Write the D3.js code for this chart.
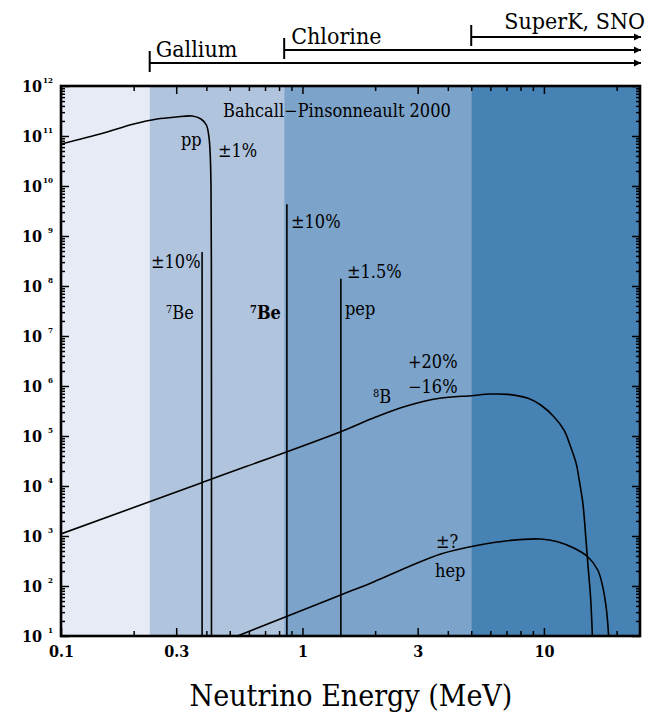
<!DOCTYPE html>
<html>
<head>
<meta charset="utf-8">
<script src="https://cdn.jsdelivr.net/npm/d3@7/dist/d3.min.js"></script>
<style>
  body { margin: 0; background: #fff; }
  svg text { font-family: "DejaVu Serif Condensed", "DejaVu Serif", serif; fill: #000; }
</style>
</head>
<body>
<script>
// solar neutrino spectra (Bahcall-Pinsonneault 2000)
var ppEnergy = [0.1, 0.15, 0.2, 0.25, 0.3, 0.35, 0.38, 0.40, 0.41, 0.415, 0.418, 0.4195, 0.42];
var ppFlux   = [6.9e10, 1.15e11, 1.74e11, 2.19e11, 2.40e11, 2.51e11, 2.19e11, 1.66e11, 9.5e10, 4.2e10, 1.05e10, 3.2e8, 8];

var b8Energy = [0.1, 0.38, 1.44, 2.0, 2.7, 3.7, 5.0, 6.0, 7.1, 8.6, 9.7, 11.0, 12.1, 12.9, 13.6, 14.0, 14.5, 14.9, 15.2, 15.6, 15.8, 15.9];
var b8Flux   = [1.1e3, 1.15e4, 1.22e5, 2.37e5, 3.98e5, 5.68e5, 6.4e5, 6.9e5, 6.8e5, 5.68e5, 4.17e5, 2.43e5, 1.32e5, 6.1e4, 2.84e4, 1.32e4, 4.5e3, 970, 284, 61, 18, 8];

var hepEnergy = [0.5, 1.44, 1.98, 2.72, 3.74, 5.14, 7.07, 9.72, 11.4, 13.36, 15.19, 16.71, 17.52, 18.09, 18.38, 18.56];
var hepFlux   = [8.7, 66, 122, 237, 437, 631, 805, 871, 769, 568, 385, 209, 97, 38.5, 17.9, 8.9];

// line sources: 7Be (0.384, 0.862) and pep
var lineEnergy = [0.384, 0.862, 1.442];
var lineFlux   = [4.8e8, 4.3e9, 1.4e8];

// detector thresholds (MeV)
var detectors = ["Gallium", "Chlorine", "SuperK, SNO"];
var thresholds = [0.233, 0.84, 5.0];
var bandEdges = [0.1, 0.233, 0.84, 5.0, 25];
var bandColors = ["#e7ebf5", "#b0c4de", "#7ca3c9", "#4682b4"];

var xMajor = [0.1, 0.3, 1, 3, 10];
var xMinor = [0.2, 0.4, 0.5, 0.6, 0.7, 0.8, 0.9, 2, 4, 5, 6, 7, 8, 9, 20];
var yExponents = [1, 2, 3, 4, 5, 6, 7, 8, 9, 10, 11, 12];

var width = 659, height = 723;
var pLeft = 61, pRight = 640, pTop = 86, pBottom = 636;

var x = d3.scaleLog().domain([0.1, 25]).range([pLeft, pRight]);
var y = d3.scaleLog().domain([10, 1e12]).range([pBottom, pTop]);

var svg = d3.select("body").append("svg")
  .attr("width", width)
  .attr("height", height);

var defs = svg.append("defs");
defs.append("clipPath").attr("id", "plot")
  .append("rect").attr("x", pLeft).attr("y", pTop)
  .attr("width", pRight - pLeft).attr("height", pBottom - pTop);

defs.append("marker")
  .attr("id", "arrow")
  .attr("viewBox", "0 0 10 10")
  .attr("refX", 10).attr("refY", 5)
  .attr("markerWidth", 4).attr("markerHeight", 4)
  .attr("orient", "auto")
  .append("path").attr("d", "M0,0 L10,5 L0,10 z").attr("fill", "#000");

// background bands
svg.append("g").selectAll("rect")
  .data(bandColors)
  .enter().append("rect")
  .attr("x", function(d, i) { return x(bandEdges[i]); })
  .attr("y", pTop)
  .attr("width", function(d, i) { return x(bandEdges[i + 1]) - x(bandEdges[i]); })
  .attr("height", pBottom - pTop)
  .attr("fill", function(d) { return d; });

// ticks
var yMinor = [];
yExponents.slice(0, -1).forEach(function(e) {
  for (var m = 2; m <= 9; m++) yMinor.push(m * Math.pow(10, e));
});
var yMajor = yExponents.map(function(e) { return Math.pow(10, e); });

function tickLayer(axis, tr) {
  var g = svg.append("g").attr("transform", tr).call(axis);
  g.select(".domain").remove();
  g.selectAll(".tick line").attr("stroke", "#000").attr("stroke-width", 1.5);
  return g;
}

tickLayer(d3.axisBottom(x).tickValues(xMinor).tickSize(-5).tickFormat(""), "translate(0," + pBottom + ")");
tickLayer(d3.axisTop(x).tickValues(xMinor).tickSize(-5).tickFormat(""), "translate(0," + pTop + ")");
tickLayer(d3.axisTop(x).tickValues(xMajor).tickSize(-8).tickFormat(""), "translate(0," + pTop + ")");
var xLab = tickLayer(d3.axisBottom(x).tickValues(xMajor).tickSize(-8).tickPadding(10)
  .tickFormat(function(d) { return d; }), "translate(0," + pBottom + ")");
xLab.selectAll("text")
  .attr("font-family", null)
  .style("font-family", '"DejaVu Serif Condensed", serif')
  .style("font-weight", "bold")
  .style("font-size", "16px");

tickLayer(d3.axisLeft(y).tickValues(yMinor).tickSize(-4).tickFormat(""), "translate(" + pLeft + ",0)");
tickLayer(d3.axisRight(y).tickValues(yMinor).tickSize(-4).tickFormat(""), "translate(" + pRight + ",0)");
tickLayer(d3.axisRight(y).tickValues(yMajor).tickSize(-8).tickFormat(""), "translate(" + pRight + ",0)");
var yLab = tickLayer(d3.axisLeft(y).tickValues(yMajor).tickSize(-8).tickFormat(""), "translate(" + pLeft + ",0)");

yLab.selectAll(".tick").each(function(d) {
  var t = d3.select(this);
  t.append("text")
    .attr("x", -19).attr("dy", "0.36em")
    .attr("text-anchor", "end")
    .style("font-size", "16px").style("font-weight", "bold")
    .text("10");
  t.append("text")
    .attr("x", -8).attr("y", -4)
    .attr("text-anchor", "end")
    .style("font-size", "8px").style("font-weight", "bold")
    .text(Math.round(Math.log10(d)));
});

// spectra
var line = d3.line()
  .x(function(d) { return x(d[0]); })
  .y(function(d) { return y(d[1]); })
  .curve(d3.curveCatmullRom.alpha(0.5));

var curves = svg.append("g").attr("clip-path", "url(#plot)");
[[ppEnergy, ppFlux], [b8Energy, b8Flux], [hepEnergy, hepFlux]].forEach(function(s) {
  curves.append("path")
    .datum(d3.zip(s[0], s[1]))
    .attr("d", line)
    .attr("fill", "none")
    .attr("stroke", "#000")
    .attr("stroke-width", 1.6);
});

curves.selectAll(".mono")
  .data(d3.zip(lineEnergy, lineFlux))
  .enter().append("line")
  .attr("x1", function(d) { return x(d[0]); })
  .attr("x2", function(d) { return x(d[0]); })
  .attr("y1", pBottom)
  .attr("y2", function(d) { return y(d[1]); })
  .attr("stroke", "#000")
  .attr("stroke-width", 1.6);

// frame
svg.append("rect")
  .attr("x", pLeft).attr("y", pTop)
  .attr("width", pRight - pLeft).attr("height", pBottom - pTop)
  .attr("fill", "none").attr("stroke", "#000").attr("stroke-width", 2.6);

// detector arrows
var arrowY = [63, 50, 37];
thresholds.forEach(function(t, i) {
  var g = svg.append("g");
  g.append("line")
    .attr("x1", x(t)).attr("x2", x(t))
    .attr("y1", arrowY[i] - 12).attr("y2", arrowY[i] + 9)
    .attr("stroke", "#000").attr("stroke-width", 2);
  g.append("line")
    .attr("x1", x(t)).attr("x2", pRight + 1)
    .attr("y1", arrowY[i]).attr("y2", arrowY[i])
    .attr("stroke", "#000").attr("stroke-width", 1.8)
    .attr("marker-end", "url(#arrow)");
});
svg.append("text").attr("x", x(thresholds[0]) + 6).attr("y", 57)
  .style("font-size", "23px").text(detectors[0]);
svg.append("text").attr("x", x(thresholds[1]) + 7).attr("y", 44)
  .style("font-size", "23px").text(detectors[1]);
svg.append("text").attr("x", 645).attr("y", 29).attr("text-anchor", "end")
  .style("font-size", "23px").text(detectors[2]);

// annotations
function label(px, py, txt, size, anchor) {
  return svg.append("text").attr("x", px).attr("y", py)
    .attr("text-anchor", anchor || "start")
    .style("font-size", (size || 18) + "px").text(txt);
}
label(223, 117, "Bahcall\u2212Pinsonneault 2000", 18);
label(181, 146, "pp");
label(218, 157, "\u00b11%");
label(151, 268, "\u00b110%");
label(291, 228, "\u00b110%");
label(347, 278, "\u00b11.5%");
label(345, 315, "pep");
label(408, 368, "+20%");
label(408, 393, "\u221216%");
label(436, 548, "\u00b1?");
label(435, 577, "hep");

function sup(px, py, s, base, bold) {
  var t = svg.append("text").attr("x", px).attr("y", py)
    .style("font-size", "18px");
  if (bold) t.style("font-weight", "bold");
  t.append("tspan").attr("dy", -6).style("font-size", "11px").text(s);
  t.append("tspan").attr("dy", 6).text(base);
}
sup(166, 319, "7", "Be", false);
sup(250, 319, "7", "Be", true);
sup(373, 403, "8", "B", false);

svg.append("text")
  .attr("x", 351).attr("y", 706)
  .attr("text-anchor", "middle")
  .style("font-size", "30px")
  .text("Neutrino Energy (MeV)");
</script>
</body>
</html>
